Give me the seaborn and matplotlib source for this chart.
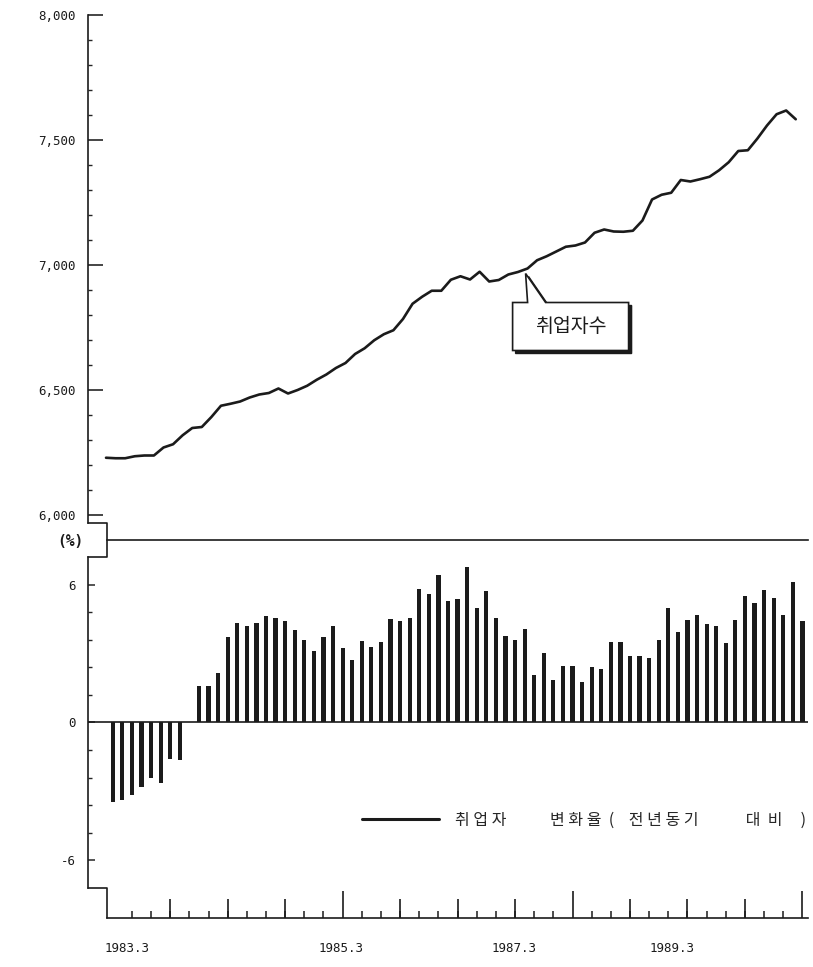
import matplotlib
matplotlib.use("Agg")
import matplotlib.pyplot as plt
import matplotlib.transforms as mtransforms
import numpy as np
import pandas as pd
import seaborn as sns
from matplotlib.lines import Line2D
from matplotlib.patches import Polygon

# 취업자수 (천명)
employed = [6229, 6227, 6227, 6235, 6238, 6238, 6270, 6283, 6319, 6348,
            6352, 6392, 6437, 6445, 6454, 6470, 6482, 6488, 6506, 6486,
            6500, 6517, 6541, 6562, 6588, 6608, 6644, 6667, 6699, 6723,
            6739, 6784, 6845, 6873, 6897, 6897, 6941, 6955, 6942, 6973,
            6934, 6940, 6962, 6972, 6986, 7019, 7035, 7054, 7073, 7078,
            7090, 7129, 7142, 7134, 7133, 7137, 7178, 7262, 7281, 7289,
            7340, 7334, 7343, 7353, 7379, 7411, 7456, 7459, 7506, 7558,
            7603, 7618, 7583]

# 취업자 변화율 (전년동기 대비, %)
change_pct = [-3.48, -3.36, -3.14, -2.82, -2.41, -2.65, -1.58, -1.65, 0.0, 1.60,
              1.60, 2.14, 3.72, 4.34, 4.20, 4.34, 4.63, 4.53, 4.42, 4.01,
              3.61, 3.10, 3.72, 4.19, 3.23, 2.73, 3.57, 3.27, 3.50, 4.50,
              4.42, 4.53, 5.82, 5.59, 6.44, 5.31, 5.37, 6.77, 5.00, 5.73,
              4.56, 3.76, 3.61, 4.08, 2.05, 3.02, 1.87, 2.46, 2.46, 1.75,
              2.43, 2.31, 3.50, 3.50, 2.90, 2.90, 2.80, 3.60, 4.97, 3.96,
              4.45, 4.67, 4.27, 4.20, 3.46, 4.45, 5.49, 5.22, 5.75, 5.44,
              4.70, 6.12, 4.42]

year_labels = ["1983.3", "1985.3", "1987.3", "1989.3"]
year_label_idx = [1.5, 23.8, 41.9, 58.4]
level_ticks = [6000, 6500, 7000, 7500, 8000]
pct_ticks = [-6, 0, 6]
callout_label = "취업자수"
legend_label = ("취 업 자" + " " * 12 + "변 화 율  (" + " " * 4 + "전 년 동 기"
                + " " * 13 + "대  비" + " " * 5 + ")")

W, H = 813, 967
INK = "#1b1b1b"
MONO = "DejaVu Sans Mono"


def fx(px):
    return px / W


def fy(py):
    return 1 - py / H


sns.set_theme(style="white")
plt.rcParams["font.family"] = ["Noto Sans CJK KR", "DejaVu Sans"]

df = pd.DataFrame({"idx": np.arange(len(employed)), "employed": employed, "pct": change_pct})

fig = plt.figure(figsize=(W / 100, H / 100), dpi=100)
L, R = 88, 808
ax1 = fig.add_axes([fx(L), fy(540), (R - L) / W, (540 - 15) / H])
ax2 = fig.add_axes([fx(L), fy(918), (R - L) / W, (918 - 540) / H])
xlim = (-2.58, 72.58)

# --- top: level of employment
sns.lineplot(x=df["idx"] - 0.7, y=df["employed"], ax=ax1, color=INK, lw=1.9)
ax1.set_xlim(*xlim)
ax1.set_ylim(5900, 8000)
ax1.set_xlabel("")
ax1.set_ylabel("")
ax1.set_xticks([])
ax1.set_yticks(level_ticks)
ax1.set_yticklabels([f"{v:,}" for v in level_ticks], family=MONO, fontsize=9, color=INK)
ax1.set_yticks(np.arange(6000, 8001, 100), minor=True)
ax1.tick_params(axis="y", which="major", direction="in", length=11, width=1.2, pad=9, left=True)
ax1.tick_params(axis="y", which="minor", direction="in", length=3, width=1.0, left=True)
for s in ("top", "right", "bottom"):
    ax1.spines[s].set_visible(False)
ax1.spines["left"].set_bounds(5968, 8000)
ax1.spines["left"].set_color(INK)
ax1.spines["left"].set_linewidth(1.2)

# --- bottom: yoy change
sns.barplot(data=df, x="idx", y="pct", ax=ax2, native_scale=True, width=0.44,
            color=INK, saturation=1, errorbar=None, linewidth=0)
ax2.axhline(0, color=INK, lw=1.2)
ax2.set_xlim(*xlim)
ax2.set_ylim(-8.52, 7.95)
ax2.set_xlabel("")
ax2.set_ylabel("")
ax2.set_yticks(pct_ticks)
ax2.set_yticklabels([str(v) for v in pct_ticks], family=MONO, fontsize=9, color=INK)
ax2.set_yticks(np.arange(-6, 6.1, 1.2), minor=True)
ax2.tick_params(axis="y", which="major", direction="in", length=5, width=1.1, pad=9, left=True)
ax2.tick_params(axis="y", which="minor", direction="in", length=3, width=1.0, left=True)

# month ticks: every 2nd month short, every 6th medium, every 24th tall
ax2.set_xticks([24, 48, 72])
ax2.set_xticks(np.arange(2, 73, 2), minor=True)
ax2.tick_params(axis="x", which="major", direction="in", length=19.5, width=1.2,
                bottom=True, labelbottom=False)
ax2.tick_params(axis="x", which="minor", direction="in", length=5, width=1.1, bottom=True)
ax_mid = ax2.twiny()
ax_mid.set_xlim(*xlim)
ax_mid.xaxis.set_ticks_position("bottom")
ax_mid.set_xticks([6, 12, 18, 30, 36, 42, 54, 60, 66])
ax_mid.tick_params(axis="x", direction="in", length=14, width=1.2, color=INK,
                   labelbottom=False, labeltop=False, top=False)
for s in ax_mid.spines.values():
    s.set_visible(False)
ax2.tick_params(axis="x", which="both", color=INK)

ax2.spines["right"].set_visible(False)
for s in ("top", "left", "bottom"):
    ax2.spines[s].set_color(INK)
    ax2.spines[s].set_linewidth(1.2)
ax2.spines["top"].set_bounds(-0.6, xlim[1])
ax2.spines["left"].set_bounds(-7.21, 7.21)
ax2.spines["bottom"].set_bounds(-0.6, xlim[1])

btm = mtransforms.blended_transform_factory(ax2.transData, ax2.transAxes)
for lab, pos in zip(year_labels, year_label_idx):
    ax2.text(pos, -0.08, lab, transform=btm, ha="center", va="center",
             family=MONO, fontsize=9, color=INK)

# axis jogs as on the original
fig.add_artist(Line2D([fx(88), fx(107), fx(107), fx(88)], [fy(523), fy(523), fy(557), fy(557)],
                      color=INK, lw=1.2))
fig.add_artist(Line2D([fx(88), fx(107), fx(107)], [fy(888), fy(888), fy(918)], color=INK, lw=1.2))
fig.text(fx(70), fy(541), "(%)", ha="center", va="center", family=MONO, fontsize=10.5,
         color=INK, weight="bold")

# callout on the line
fig.canvas.draw()
tip = ax1.transData.transform((df["idx"][44] - 0.9, employed[44] - 20))
offs = [(-13, -29), (2, -29), (0, 0), (20, -29), (103, -29), (103, -77), (-13, -77)]
verts = [(tip[0] + dx, tip[1] + dy) for dx, dy in offs]
shadow = Polygon([(x + 3, y - 3) for x, y in verts], closed=True, transform=mtransforms.IdentityTransform(),
                 facecolor=INK, edgecolor=INK, lw=1.0, zorder=4)
box = Polygon(verts, closed=True, transform=mtransforms.IdentityTransform(),
              facecolor="white", edgecolor=INK, lw=1.2, zorder=5)
fig.add_artist(shadow)
fig.add_artist(box)
fig.text((tip[0] + 45) / W, (tip[1] - 53) / H, callout_label, ha="center", va="center",
         fontsize=14, color=INK, zorder=6)

ax2.legend(handles=[Line2D([], [], color=INK, lw=2.2)], labels=[legend_label],
           loc="center left", bbox_to_anchor=(fx(362), fy(820)), bbox_transform=fig.transFigure,
           frameon=False, handlelength=4.8, handletextpad=1.05, borderpad=0, borderaxespad=0,
           prop={"size": 11.5})

fig.savefig("out.png", dpi=100)
